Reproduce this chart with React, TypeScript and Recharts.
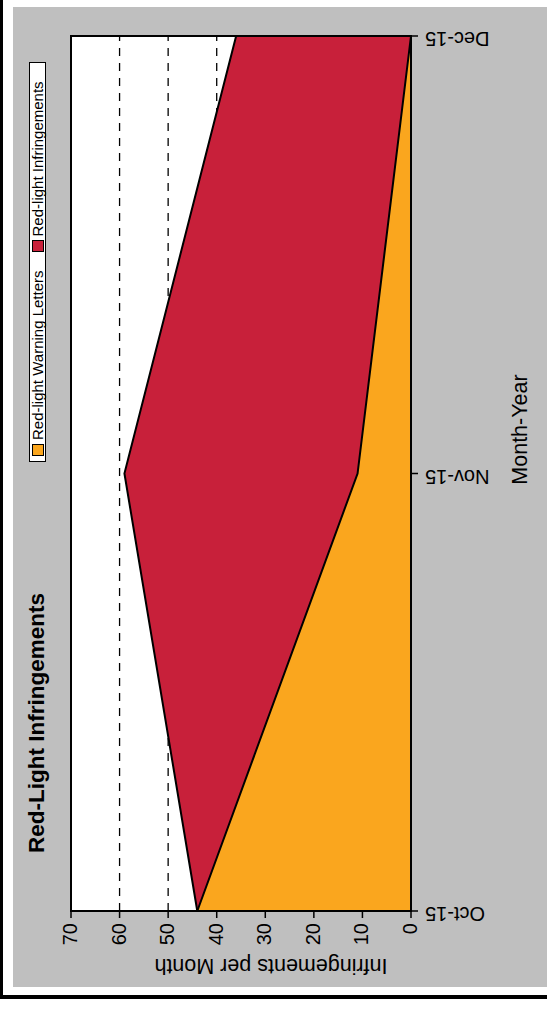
import React from 'react';
import {
  AreaChart,
  Area,
  XAxis,
  YAxis,
  CartesianGrid,
  Legend,
  Label,
  ReferenceArea,
} from 'recharts';

// ---- data ----
const months = ['Oct-15', 'Nov-15', 'Dec-15'];
const infringements = [44, 59, 36];
const warningLetters = [44, 11, 0];
const yTicks = [0, 10, 20, 30, 40, 50, 60, 70];

const seriesNames = {
  warning: 'Red-light Warning Letters',
  infringements: 'Red-light Infringements',
};
const legendOrder = ['warning', 'infringements'];

const data = months.map((m, i) => ({
  month: m,
  infringements: infringements[i],
  warning: warningLetters[i],
}));

// ---- styling ----
const W = 1009; // unrotated width
const H = 547; // unrotated height
const FONT = '"Liberation Sans", Arial, Helvetica, sans-serif';
const RED = '#C8203A';
const ORANGE = '#FAA61E';
const GRAY = '#BFBFBF';
const seriesFill: Record<string, string> = { warning: ORANGE, infringements: RED };

const XTick = (props: any) => {
  const { x, y, payload } = props;
  return (
    <text
      transform={`translate(${x},${y + 5}) rotate(-90)`}
      dy={4}
      textAnchor="end"
      fontSize={20}
      fontFamily={FONT}
      fill="#000"
    >
      {payload.value}
    </text>
  );
};

const YTick = (props: any) => {
  const { x, y, payload } = props;
  return (
    <text
      x={x - 3}
      y={y}
      dy={6}
      textAnchor="end"
      fontSize={20}
      fontFamily={FONT}
      fill="#000"
    >
      {payload.value}
    </text>
  );
};

const XTitle = (props: any) => {
  const vb = props.viewBox || { x: 98, y: 411, width: 875, height: 136 };
  const cx = vb.x + vb.width / 2 + 44;
  return (
    <text
      x={cx}
      y={vb.y + 116}
      textAnchor="middle"
      fontSize={21.5}
      fontFamily={FONT}
      fill="#000"
    >
      Month-Year
    </text>
  );
};

const YTitle = (props: any) => {
  const vb = props.viewBox || { x: 0, y: 71, width: 98, height: 340 };
  const cy = vb.y + vb.height / 2 + 30;
  return (
    <text
      transform={`translate(50,${cy}) rotate(-90)`}
      textAnchor="middle"
      fontSize={21.5}
      fontFamily={FONT}
      fill="#000"
    >
      Infringements per Month
    </text>
  );
};

const renderLegend = (props: any) => {
  const payload: any[] = props.payload || [];
  const items = legendOrder
    .map((k) => payload.find((p) => p.dataKey === k))
    .filter(Boolean);
  return (
    <div
      style={{
        display: 'flex',
        alignItems: 'center',
        boxSizing: 'border-box',
        width: 400,
        height: 17,
        border: '1.5px solid #000',
        background: '#fff',
        fontFamily: FONT,
        fontSize: 15,
        lineHeight: '15px',
        paddingLeft: 5,
        whiteSpace: 'nowrap',
      }}
    >
      {items.map((it: any, i: number) => (
        <React.Fragment key={it.dataKey}>
          <span
            style={{
              display: 'inline-block',
              boxSizing: 'border-box',
              width: 12,
              height: 12,
              background: seriesFill[it.dataKey],
              border: '1px solid #000',
              marginLeft: i === 0 ? 0 : 18,
            }}
          />
          <span style={{ marginLeft: 4, color: '#000' }}>{it.value}</span>
        </React.Fragment>
      ))}
    </div>
  );
};

export default function App() {
  return (
    <div
      style={{
        position: 'absolute',
        left: 0,
        top: 0,
        width: W,
        height: H,
        background: '#fff',
        transformOrigin: '0 0',
        transform: `translateY(${W}px) rotate(-90deg)`,
        overflow: 'hidden',
      }}
    >
      {/* frame lines */}
      <div style={{ position: 'absolute', left: 10, top: 0, width: W - 10, height: 3, background: '#000' }} />
      <div style={{ position: 'absolute', left: 10, top: 0, width: 4, height: H, background: '#000' }} />
      {/* gray panel */}
      <div style={{ position: 'absolute', left: 22, top: 13, width: 980, height: H - 13, background: GRAY }} />
      {/* title */}
      <svg style={{ position: 'absolute', left: 0, top: 0 }} width={W} height={60}>
        <text x={156} y={44} fontSize={22.5} fontWeight="bold" fontFamily={FONT} fill="#000">
          Red-Light Infringements
        </text>
      </svg>
      <div style={{ position: 'absolute', left: 0, top: 0 }}>
        <AreaChart
          width={W}
          height={H}
          data={data}
          margin={{ top: 71, right: 36, bottom: 0, left: 0 }}
        >
          <CartesianGrid
            vertical={false}
            fill="#fff"
            fillOpacity={1}
            stroke="#000"
            strokeWidth={1.3}
            strokeDasharray="8 7"
          />
          <Area
            type="linear"
            dataKey="infringements"
            name={seriesNames.infringements}
            stroke="#000"
            strokeWidth={2}
            fill={RED}
            fillOpacity={1}
            dot={false}
            activeDot={false}
            isAnimationActive={false}
          />
          <Area
            type="linear"
            dataKey="warning"
            name={seriesNames.warning}
            stroke="#000"
            strokeWidth={2}
            fill={ORANGE}
            fillOpacity={1}
            dot={false}
            activeDot={false}
            isAnimationActive={false}
          />
          <ReferenceArea
            x1={months[0]}
            x2={months[months.length - 1]}
            y1={yTicks[0]}
            y2={yTicks[yTicks.length - 1]}
            fill="none"
            fillOpacity={0}
            stroke="#000"
            strokeWidth={2}
            strokeOpacity={1}
          />
          <XAxis
            dataKey="month"
            type="category"
            height={136}
            tickSize={7}
            tick={<XTick />}
            tickLine={{ stroke: '#000', strokeWidth: 1.5 }}
            axisLine={{ stroke: '#000', strokeWidth: 2 }}
            interval={0}
          >
            <Label content={<XTitle />} />
          </XAxis>
          <YAxis
            type="number"
            domain={[0, 70]}
            ticks={yTicks}
            width={98}
            tickSize={7}
            tick={<YTick />}
            tickLine={{ stroke: '#000', strokeWidth: 1.5 }}
            axisLine={{ stroke: '#000', strokeWidth: 2 }}
            interval={0}
          >
            <Label content={<YTitle />} />
          </YAxis>
          <Legend
            layout="horizontal"
            verticalAlign="middle"
            align="center"
            content={renderLegend}
            wrapperStyle={{ left: 547, top: 29, width: 400, height: 17 }}
          />
        </AreaChart>
      </div>
    </div>
  );
}
